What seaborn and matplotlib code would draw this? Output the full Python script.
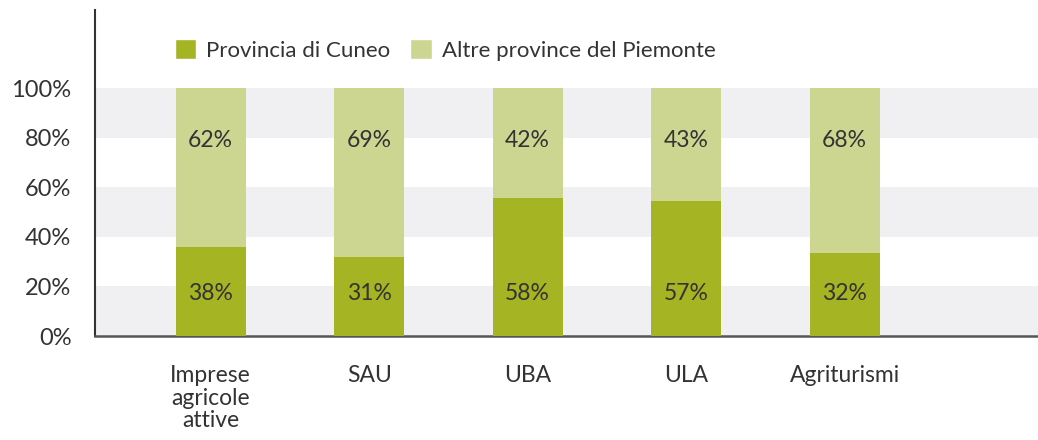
import numpy as np
import pandas as pd
import matplotlib
matplotlib.use('Agg')
import matplotlib.pyplot as plt
from matplotlib.patches import Patch
import seaborn as sns

# Data
categories = ['Imprese\nagricole\nattive', 'SAU', 'UBA', 'ULA', 'Agriturismi']
cuneo_share = [36, 32, 55.5, 54.5, 33.5]      # bar heights as drawn
cuneo_labels = ['38%', '31%', '58%', '57%', '32%']
altre_labels = ['62%', '69%', '42%', '43%', '68%']
total = [100, 100, 100, 100, 100]
y_ticks = [0, 20, 40, 60, 80, 100]
y_tick_labels = ['0%', '20%', '40%', '60%', '80%', '100%']

dark_green = '#a5b422'
light_green = '#ccd691'
band_grey = '#f0f0f3'
text_col = '#333333'
fs = 16.5

sns.set_style('white')
plt.rcParams['font.family'] = ['Lato', 'DejaVu Sans']

df = pd.DataFrame({'cat': categories, 'total': total, 'cuneo': cuneo_share})

fig = plt.figure(figsize=(10.38, 4.4), dpi=100)
ax = fig.add_axes([95 / 1038, 104 / 440, 943 / 1038, 326 / 440])

# alternating grey bands behind the bars
for lo in (0, 40, 80):
    ax.axhspan(lo, lo + 20, color=band_grey, zorder=0, lw=0)

sns.barplot(data=df, x='cat', y='total', color=light_green, width=0.44,
            saturation=1, ax=ax, zorder=2, linewidth=0, edgecolor='none')
sns.barplot(data=df, x='cat', y='cuneo', color=dark_green, width=0.44,
            saturation=1, ax=ax, zorder=3, linewidth=0, edgecolor='none')

for i in range(len(categories)):
    ax.text(i, 79, altre_labels[i], ha='center', va='center', fontsize=fs, color=text_col, zorder=4)
    ax.text(i, 17.3, cuneo_labels[i], ha='center', va='center', fontsize=fs, color=text_col, zorder=4)

ax.set_xlim(-0.73, 5.22)
ax.set_ylim(0, 131.5)
ax.set_yticks(y_ticks)
ax.set_yticklabels(y_tick_labels)
ax.set_xlabel('')
ax.set_ylabel('')
ax.tick_params(axis='y', length=0, pad=17, labelsize=fs + 0.5, labelcolor=text_col)
ax.tick_params(axis='x', length=0, pad=21, labelsize=fs, labelcolor=text_col)
for lbl in ax.get_xticklabels():
    lbl.set_linespacing(1.08)
    lbl.set_va('top')

for side in ('top', 'right'):
    ax.spines[side].set_visible(False)
ax.spines['left'].set_color('#333333')
ax.spines['left'].set_linewidth(1.5)
ax.spines['bottom'].set_color('#555555')
ax.spines['bottom'].set_linewidth(1.8)

handles = [Patch(facecolor=dark_green, label='Provincia di Cuneo'),
           Patch(facecolor=light_green, label='Altre province del Piemonte')]
leg = ax.legend(handles=handles, loc='center left', bbox_to_anchor=(0.085, 0.877),
                ncol=2, frameon=False, fontsize=16, handlelength=0.95, handleheight=0.95,
                handletextpad=0.45, columnspacing=0.9, borderaxespad=0, borderpad=0)
for t in leg.get_texts():
    t.set_color(text_col)

fig.savefig('out.png', dpi=100)
